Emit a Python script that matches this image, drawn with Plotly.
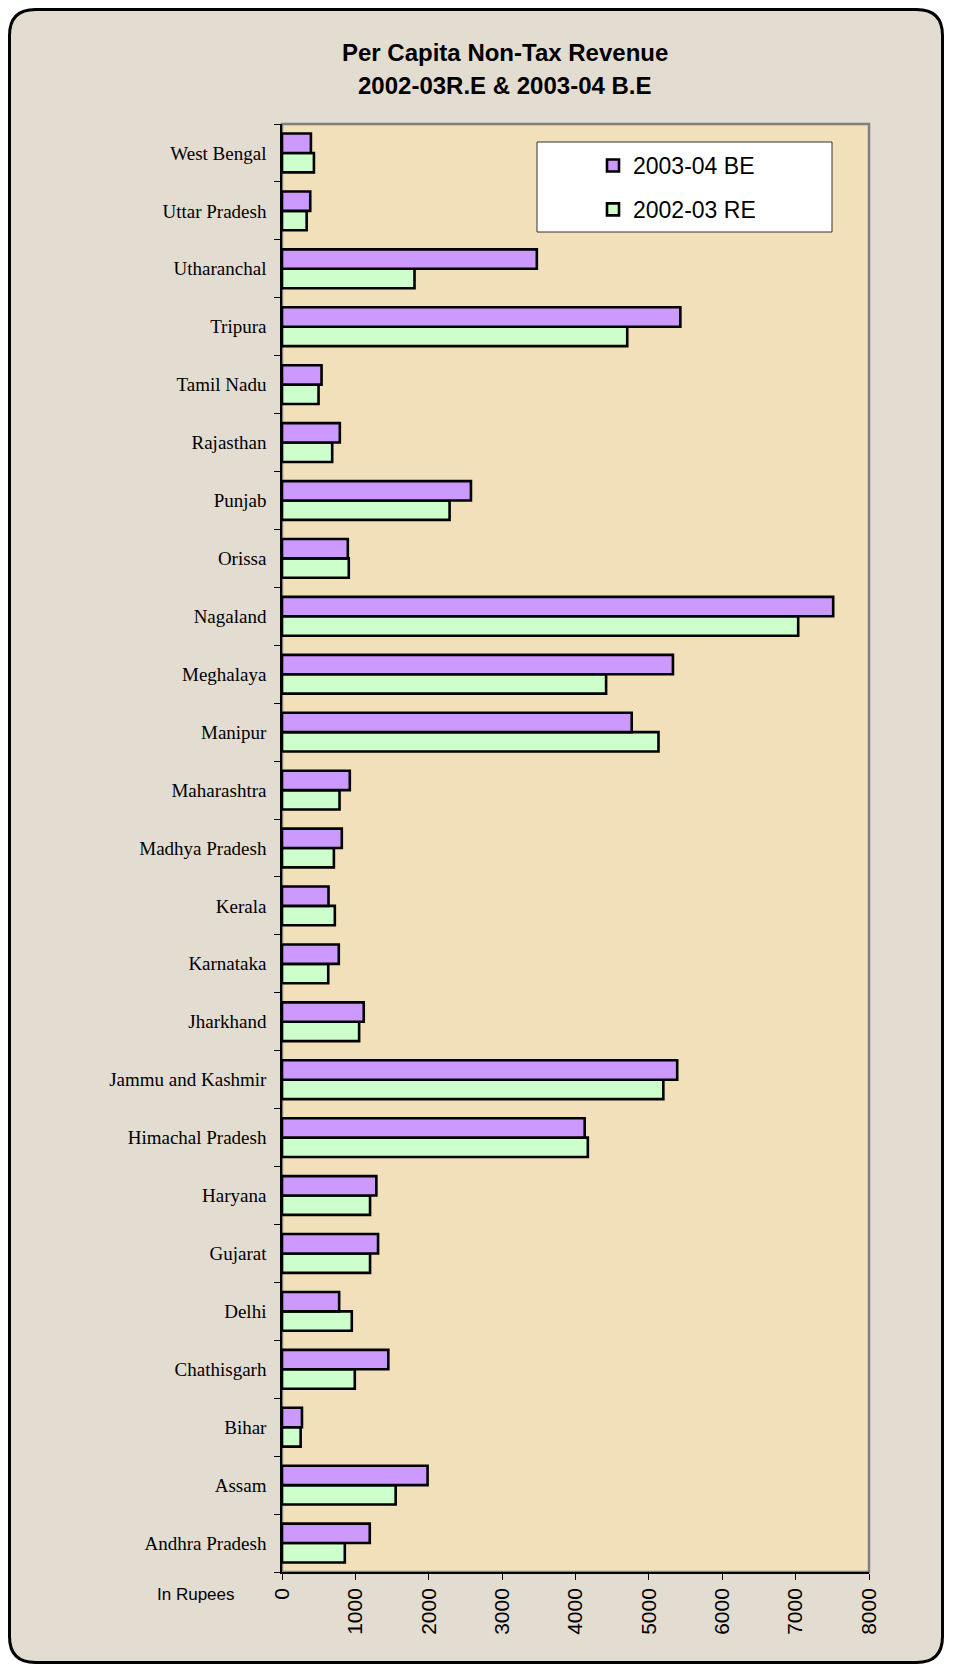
import plotly.graph_objects as go

# ---- data (bottom to top, as drawn) ----
states = [
    "Andhra Pradesh", "Assam", "Bihar", "Chathisgarh", "Delhi", "Gujarat",
    "Haryana", "Himachal Pradesh", "Jammu and Kashmir", "Jharkhand",
    "Karnataka", "Kerala", "Madhya Pradesh", "Maharashtra", "Manipur",
    "Meghalaya", "Nagaland", "Orissa", "Punjab", "Rajasthan", "Tamil Nadu",
    "Tripura", "Utharanchal", "Uttar Pradesh", "West Bengal",
]
be_2003_04 = [
    1196, 1984, 272, 1449, 779, 1309,
    1286, 4125, 5386, 1114,
    774, 634, 815, 924, 4766,
    5328, 7512, 897, 2575, 788, 539,
    5429, 3473, 385, 394,
]
re_2002_03 = [
    856, 1549, 254, 992, 951, 1200,
    1200, 4168, 5197, 1051,
    630, 720, 707, 784, 5131,
    4417, 7035, 910, 2284, 684, 498,
    4705, 1806, 336, 435,
]
x_ticks = [0, 1000, 2000, 3000, 4000, 5000, 6000, 7000, 8000]
series_names = ["2003-04 BE", "2002-03 RE"]

# ---- geometry ----
OFF = 8                                  # page body margin
W, H = 960 - 2 * OFF, 1672 - 2 * OFF     # fits in the window, no scrollbars
# plot area in page pixels
PL, PR, PT, PB = 282, 869, 124, 1572
L, R, T, B = PL - OFF, PR - OFF, PT - OFF, PB - OFF


def fx(p):
    """page x pixel -> paper fraction"""
    return (p - OFF - L) / (R - L)


def fy(p):
    """page y pixel -> paper fraction"""
    return (B - (p - OFF)) / (B - T)


SANS = "Arial, Liberation Sans, sans-serif"
SERIF = "Times New Roman, Liberation Serif, serif"

fig = go.Figure()
fig.add_trace(go.Bar(
    y=states, x=re_2002_03, orientation="h", name=series_names[1],
    legendgroup="b", legendrank=2,
    marker=dict(color="#ccffcc", line=dict(color="black", width=2.6)),
))
fig.add_trace(go.Bar(
    y=states, x=be_2003_04, orientation="h", name=series_names[0],
    legendgroup="a", legendrank=1,
    marker=dict(color="#cc99ff", line=dict(color="black", width=2.6)),
))

# rounded outer frame (page pixels)
fl, fr, ft, fb, rad = 9.5, 942.5, 9.5, 1662.5, 26
rx = rad / (R - L)
ry = rad / (B - T)
x0, x1, y0, y1 = fx(fl), fx(fr), fy(fb), fy(ft)
frame_path = (
    f"M{x0 + rx},{y1} L{x1 - rx},{y1} Q{x1},{y1} {x1},{y1 - ry} "
    f"L{x1},{y0 + ry} Q{x1},{y0} {x1 - rx},{y0} "
    f"L{x0 + rx},{y0} Q{x0},{y0} {x0},{y0 + ry} "
    f"L{x0},{y1 - ry} Q{x0},{y1} {x0 + rx},{y1} Z"
)
shapes = [
    dict(type="path", path=frame_path, xref="paper", yref="paper",
         fillcolor="#e3dcd1", line=dict(color="black", width=3), layer="below"),
    dict(type="rect", xref="paper", yref="paper", x0=0, x1=1, y0=0, y1=1,
         fillcolor="#f2e0bb", line=dict(color="#808080", width=2.5), layer="below"),
    dict(type="rect", xref="paper", yref="paper",
         x0=fx(537), x1=fx(832), y0=fy(232), y1=fy(142),
         fillcolor="white", line=dict(color="#333333", width=1), layer="above"),
]

annotations = [
    dict(text="<b>Per Capita Non-Tax Revenue</b>", x=fx(505), y=fy(53),
         xref="paper", yref="paper", showarrow=False, xanchor="center",
         yanchor="middle", font=dict(family=SANS, size=24, color="black")),
    dict(text="<b>2002-03R.E &amp; 2003-04 B.E</b>", x=fx(505), y=fy(85),
         xref="paper", yref="paper", showarrow=False, xanchor="center",
         yanchor="middle", font=dict(family=SANS, size=24, color="black")),
    dict(text="In Rupees", x=fx(196), y=fy(1595), xref="paper", yref="paper",
         showarrow=False, xanchor="center", yanchor="middle",
         font=dict(family=SANS, size=17, color="black")),
]

fig.update_layout(
    width=W, height=H,
    margin=dict(l=L, r=W - R, t=T, b=H - B, pad=0),
    paper_bgcolor="white",
    plot_bgcolor="rgba(0,0,0,0)",
    barmode="group", bargap=0.33, bargroupgap=0,
    shapes=shapes, annotations=annotations,
    showlegend=True,
    legend=dict(
        x=fx(593), y=fy(144), xanchor="left", yanchor="top",
        bgcolor="rgba(0,0,0,0)", borderwidth=0,
        traceorder="grouped", tracegroupgap=11,
        font=dict(family=SANS, size=23, color="black"),
    ),
    xaxis=dict(
        range=[0, 8000], tickvals=x_ticks, ticktext=[str(v) for v in x_ticks],
        tickangle=-90, ticks="outside", ticklen=6, tickcolor="black",
        showline=True, linecolor="black", linewidth=1.5,
        showgrid=False, zeroline=False, fixedrange=True,
        tickfont=dict(family=SANS, size=21, color="black"),
    ),
    yaxis=dict(
        type="category", categoryorder="array", categoryarray=states,
        tickson="boundaries", ticks="outside", ticklen=6, tickcolor="black",
        showline=True, linecolor="black", linewidth=1.5,
        showgrid=False, zeroline=False, fixedrange=True,
        ticklabelstandoff=10,
        tickfont=dict(family=SERIF, size=19, color="black"),
    ),
)

fig.write_html("out.html")
